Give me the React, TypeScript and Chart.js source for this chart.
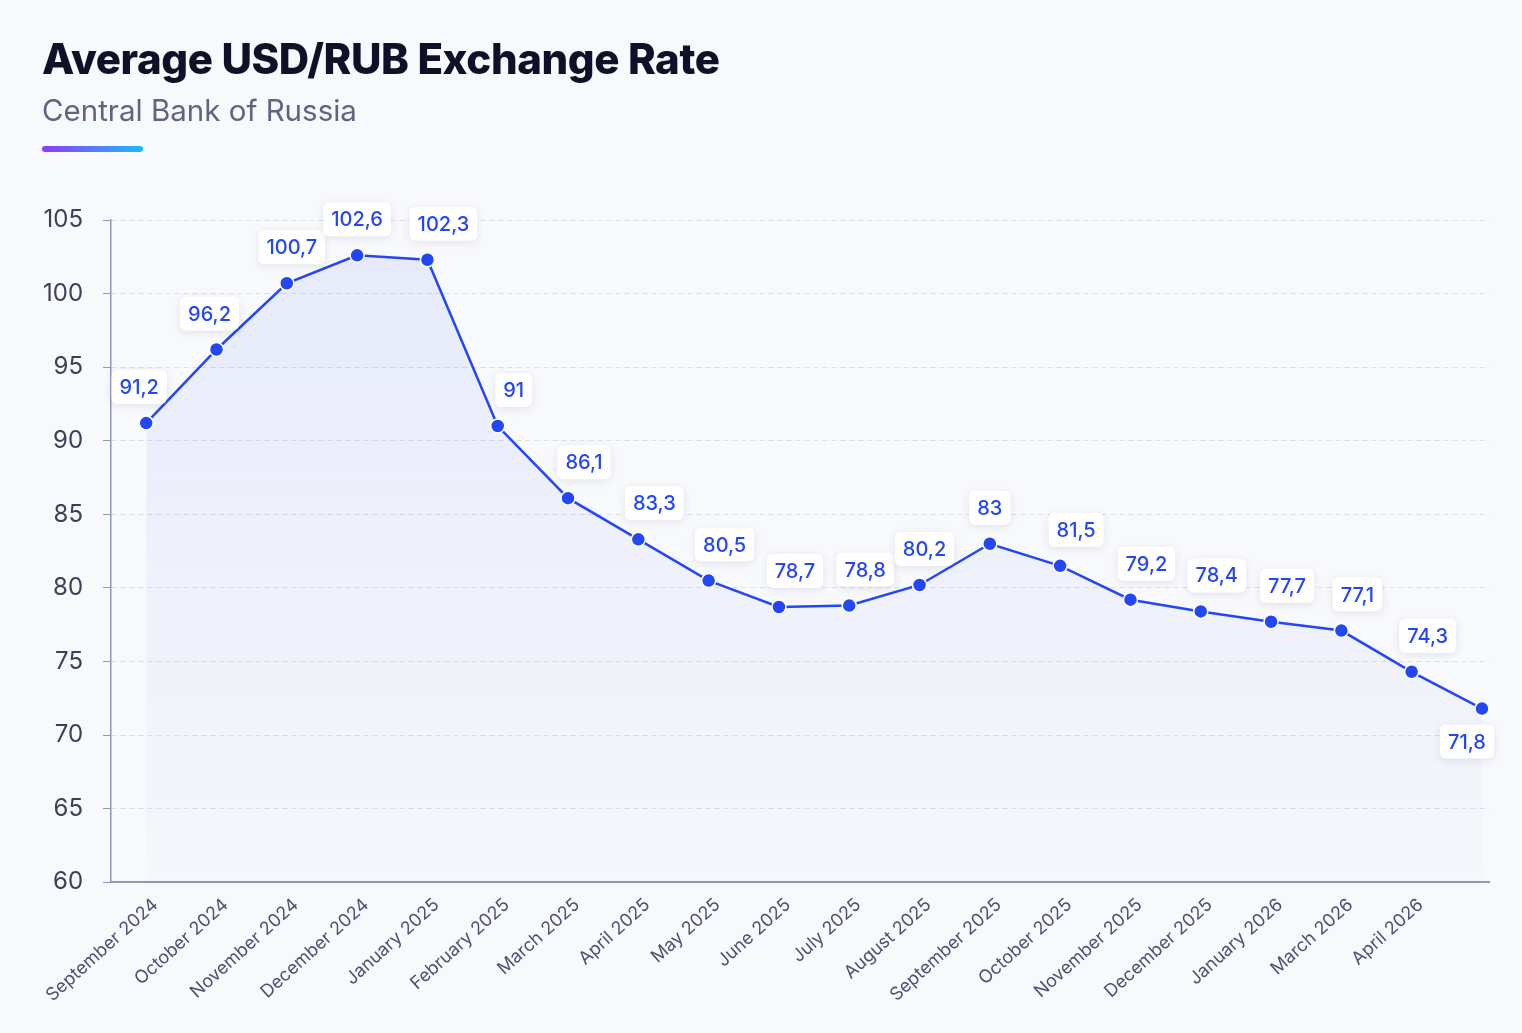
import { useEffect, useRef } from "react"
import { Chart, registerables } from "chart.js"

Chart.register(...registerables)

// monthly averages, Central Bank of Russia (RUB per 1 USD)
const months = [
  "September 2024", "October 2024", "November 2024", "December 2024",
  "January 2025", "February 2025", "March 2025", "April 2025", "May 2025",
  "June 2025", "July 2025", "August 2025", "September 2025", "October 2025",
  "November 2025", "December 2025", "January 2026", "March 2026", "April 2026",
]
const rates = [
  91.2, 96.2, 100.7, 102.6, 102.3, 91, 86.1, 83.3, 80.5, 78.7,
  78.8, 80.2, 83, 81.5, 79.2, 78.4, 77.7, 77.1, 74.3, 71.8,
]
const yMin = 60
const yMax = 105
const yStep = 5

const FONT = "Inter, 'Noto Sans', sans-serif"
const BLUE = "#2347f5"
const AXIS = "#8e97b3"

const fmt = (v: number) => String(v).replace(".", ",")

// white boxes with the value above each point
const valueLabels = {
  id: "valueLabels",
  afterDatasetsDraw(chart: any) {
    const ctx = chart.ctx as CanvasRenderingContext2D
    const pts = chart.getDatasetMeta(0).data
    const ys = pts.map((p: any) => p.y)
    ctx.save()
    ctx.font = `500 20px ${FONT}`
    ctx.textAlign = "center"
    ctx.textBaseline = "middle"
    pts.forEach((pt: any, i: number) => {
      const text = fmt(rates[i])
      const w = ctx.measureText(text).width + 16
      const h = 34
      const last = i === pts.length - 1
      const riseNext = i < ys.length - 1 ? ys[i] - ys[i + 1] : 0
      const risePrev = i > 0 ? ys[i - 1] - ys[i] : 0
      let dx = 16
      if (last) dx = -15
      else if (riseNext > 60) dx = -7
      else if (riseNext > 25) dx = 5
      else if (risePrev > 25) dx = 0
      const cx = pt.x + dx
      const top = last ? pt.y + 16 : pt.y - 19 - h
      ctx.save()
      ctx.shadowColor = "rgba(30, 40, 90, 0.10)"
      ctx.shadowBlur = 8
      ctx.shadowOffsetY = 2
      ctx.fillStyle = "#ffffff"
      ctx.beginPath()
      ctx.roundRect(cx - w / 2, top, w, h, 6)
      ctx.fill()
      ctx.restore()
      ctx.fillStyle = BLUE
      ctx.fillText(text, cx, top + h / 2 + 1)
    })
    ctx.restore()
  },
}

function RateChart() {
  const chartRef = useRef<HTMLCanvasElement>(null)
  const chartInstance = useRef<Chart | null>(null)

  useEffect(() => {
    const canvas = chartRef.current
    if (!canvas) return
    const ctx = canvas.getContext("2d")
    if (!ctx) return

    if (chartInstance.current) {
      chartInstance.current.destroy()
    }

    chartInstance.current = new Chart(ctx, {
      type: "line",
      data: {
        datasets: [
          {
            label: "USD/RUB",
            data: rates.map((v, i) => ({ x: i, y: v })),
            borderColor: BLUE,
            borderWidth: 2.5,
            tension: 0,
            pointRadius: 7,
            pointBackgroundColor: BLUE,
            pointBorderColor: "#ffffff",
            pointBorderWidth: 1.5,
            fill: "start",
            backgroundColor: (c: any) => {
              const area = c.chart.chartArea
              if (!area) return "rgba(60, 85, 240, 0.06)"
              const g = c.chart.ctx.createLinearGradient(0, area.top, 0, area.bottom)
              g.addColorStop(0, "rgba(60, 85, 240, 0.09)")
              g.addColorStop(1, "rgba(60, 85, 240, 0.01)")
              return g
            },
          },
        ],
      },
      options: {
        animation: false,
        responsive: true,
        maintainAspectRatio: false,
        events: [],
        layout: { padding: { left: 23, right: 33, top: 220, bottom: 15 } },
        plugins: {
          legend: { display: false },
          tooltip: { enabled: false },
        },
        scales: {
          x: {
            type: "linear",
            min: -0.5,
            max: 19.1,
            grid: { display: false, drawTicks: false },
            border: { display: true, color: AXIS, width: 2 },
            ticks: {
              stepSize: 1,
              includeBounds: false,
              autoSkip: false,
              minRotation: 42,
              maxRotation: 42,
              padding: 12,
              labelOffset: 9,
              color: "#4a5270",
              font: { family: FONT, size: 18 },
              callback: (v: any) => months[v] ?? "",
            },
          },
          y: {
            min: yMin,
            max: yMax,
            grid: {
              color: (c: any) => (c.tick && c.tick.value === yMin ? "transparent" : "#d9ddee"),
              lineWidth: 1,
              tickLength: 8,
              tickColor: AXIS,
              tickBorderDash: [],
            },
            border: { display: true, color: AXIS, width: 1.5, dash: [5, 4] },
            ticks: {
              stepSize: yStep,
              padding: 20,
              color: "#3b4258",
              font: { family: FONT, size: 24 },
            },
          },
        },
      },
      plugins: [valueLabels],
    } as any)

    return () => {
      if (chartInstance.current) {
        chartInstance.current.destroy()
        chartInstance.current = null
      }
    }
  }, [])

  return (
    <div style={{ position: "absolute", inset: 0 }}>
      <canvas ref={chartRef} />
    </div>
  )
}

export default function App() {
  return (
    <div
      style={{
        position: "fixed",
        inset: 0,
        background: "#f8f9fc",
        fontFamily: FONT,
        overflow: "hidden",
      }}
    >
      <RateChart />
      <div
        style={{
          position: "absolute",
          left: 42,
          top: 38,
          fontSize: 42,
          lineHeight: "42px",
          fontWeight: 800,
          letterSpacing: -0.4,
          color: "#0e1127",
        }}
      >
        Average USD/RUB Exchange Rate
      </div>
      <div
        style={{
          position: "absolute",
          left: 42,
          top: 95,
          fontSize: 29.5,
          lineHeight: "30px",
          color: "#5d6580",
        }}
      >
        Central Bank of Russia
      </div>
      <div
        style={{
          position: "absolute",
          left: 42,
          top: 146,
          width: 101,
          height: 6,
          borderRadius: 3,
          background: "linear-gradient(90deg, #8b3cf6, #1ebcf3)",
        }}
      />
    </div>
  )
}
